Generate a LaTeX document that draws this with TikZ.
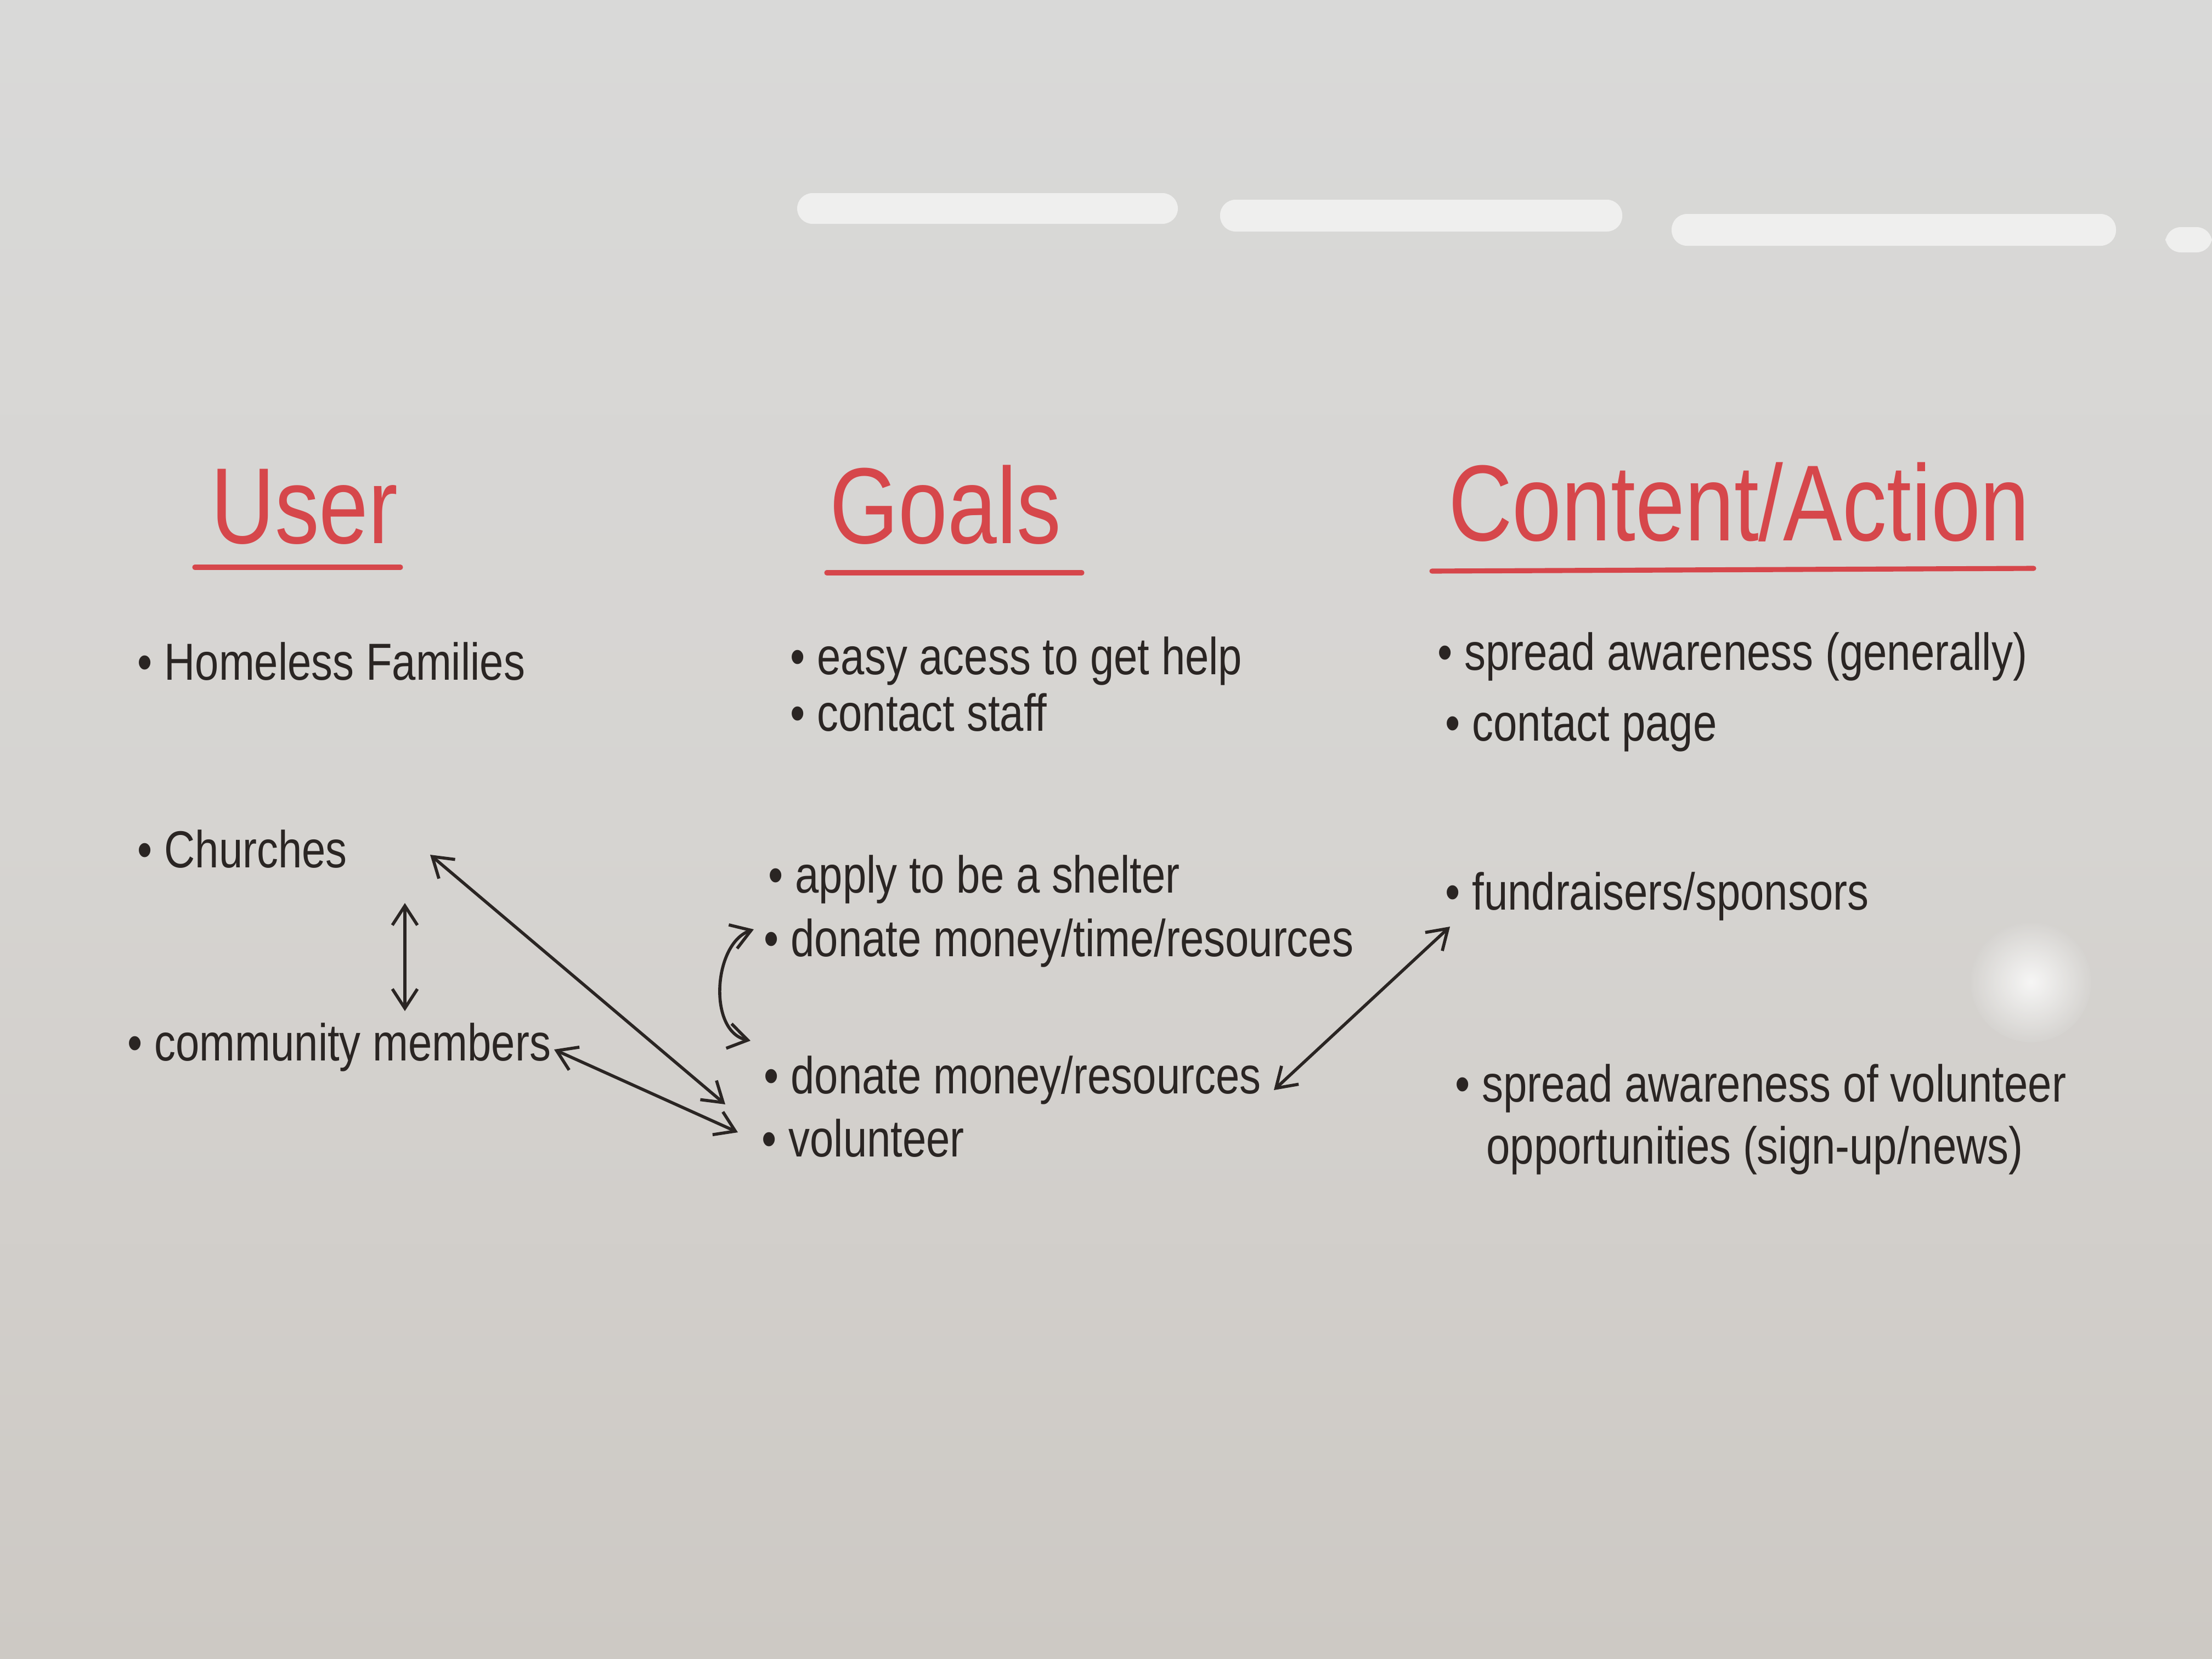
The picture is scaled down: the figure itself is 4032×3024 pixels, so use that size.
\documentclass[tikz,border=0pt]{standalone}
\usepackage{fontspec}
\newfontfamily\hand{Liberation Sans}[FakeStretch=0.82]
\usetikzlibrary{arrows.meta}
\definecolor{board}{HTML}{D6D4D1}
\definecolor{boardtop}{HTML}{D9D9D8}
\definecolor{boardbot}{HTML}{CDC9C4}
\definecolor{marker}{HTML}{2A2523}
\definecolor{redmarker}{HTML}{D6474B}
\tikzset{
  title/.style={text=redmarker, font=\hand\fontsize{56}{60}\selectfont, anchor=base, inner sep=0pt},
  item/.style={text=marker, font=\hand\fontsize{27}{38}\selectfont, anchor=base west, inner sep=0pt, align=left},
  uline/.style={draw=redmarker, line width=2.6pt, line cap=round},
  link/.style={draw=marker, line width=1.6pt, line cap=round, {Straight Barb[length=10pt,width=13pt,line width=1.6pt]}-{Straight Barb[length=10pt,width=13pt,line width=1.6pt]}},
  glare/.style={fill=white, opacity=0.6, rounded corners=8pt, draw=none}
}
\begin{document}
\begin{tikzpicture}[x=0.01cm,y=-0.01cm]
  \shade[top color=boardtop, bottom color=boardbot, middle color=board] (0,0) rectangle (4032,3024);
  \useasboundingbox (0,0) rectangle (4032,3024);
  % light reflections
  \fill[glare] (1453,352) rectangle (2147,408);
  \fill[glare] (2224,364) rectangle (2957,422);
  \fill[glare] (3047,390) rectangle (3857,448);
  \fill[glare] (3947,414) rectangle (4032,460);
  \shade[inner color=white, outer color=board, opacity=0.8] (3702,1790) circle (110);

  % titles
  \node[title] (user) at (555,990) {User};
  \node[title] (goals) at (1723,990) {Goals};
  \node[title] (content) at (3170,985) {Content/Action};
  \draw[uline] (355,1034) -- (730,1034);
  \draw[uline] (1507,1044) -- (1972,1044);
  \draw[uline] (2610,1041) -- (3707,1036);

  % user column
  \node[item] (homeless) at (250,1239) {\textbullet\ Homeless Families};
  \node[item] (churches) at (250,1581) {\textbullet\ Churches};
  \node[item] (community) at (232,1933) {\textbullet\ community members};

  % goals column
  \node[item] (easy) at (1440,1229) {\textbullet\ easy acess to get help};
  \node[item] (staff) at (1440,1332) {\textbullet\ contact staff};
  \node[item] (apply) at (1400,1627) {\textbullet\ apply to be a shelter};
  \node[item] (donate1) at (1392,1743) {\textbullet\ donate money/time/resources};
  \node[item] (donate2) at (1392,1993) {\textbullet\ donate money/resources};
  \node[item] (volunteer) at (1388,2108) {\textbullet\ volunteer};

  % content column
  \node[item] (spread) at (2620,1221) {\textbullet\ spread awareness (generally)};
  \node[item] (cpage) at (2634,1350) {\textbullet\ contact page};
  \node[item] (fund) at (2634,1658) {\textbullet\ fundraisers/sponsors};
  \node[item] (spreadvol) at (2652,2121) {\textbullet\ spread awareness of volunteer\\[-6pt]\hspace*{0.6em}opportunities (sign-up/news)};

  % connector ends
  \coordinate (chS) at (738,1646);
  \coordinate (cmN) at (738,1843);
  \coordinate (chE) at (784,1558);
  \coordinate (voA) at (1322,2013);
  \coordinate (cmE) at (1010,1913);
  \coordinate (voB) at (1345,2064);
  \coordinate (d1W) at (1374,1694);
  \coordinate (d2W) at (1368,1897);
  \coordinate (d2E) at (2322,1987);
  \coordinate (fuW) at (2643,1689);

  \draw[link] (chS) -- (cmN);
  \draw[link] (chE) -- (voA);
  \draw[link] (cmE) -- (voB);
  \draw[link] (d1W) .. controls (1300,1720) and (1290,1880) .. (d2W);
  \draw[link] (d2E) -- (fuW);
\end{tikzpicture}
\end{document}
